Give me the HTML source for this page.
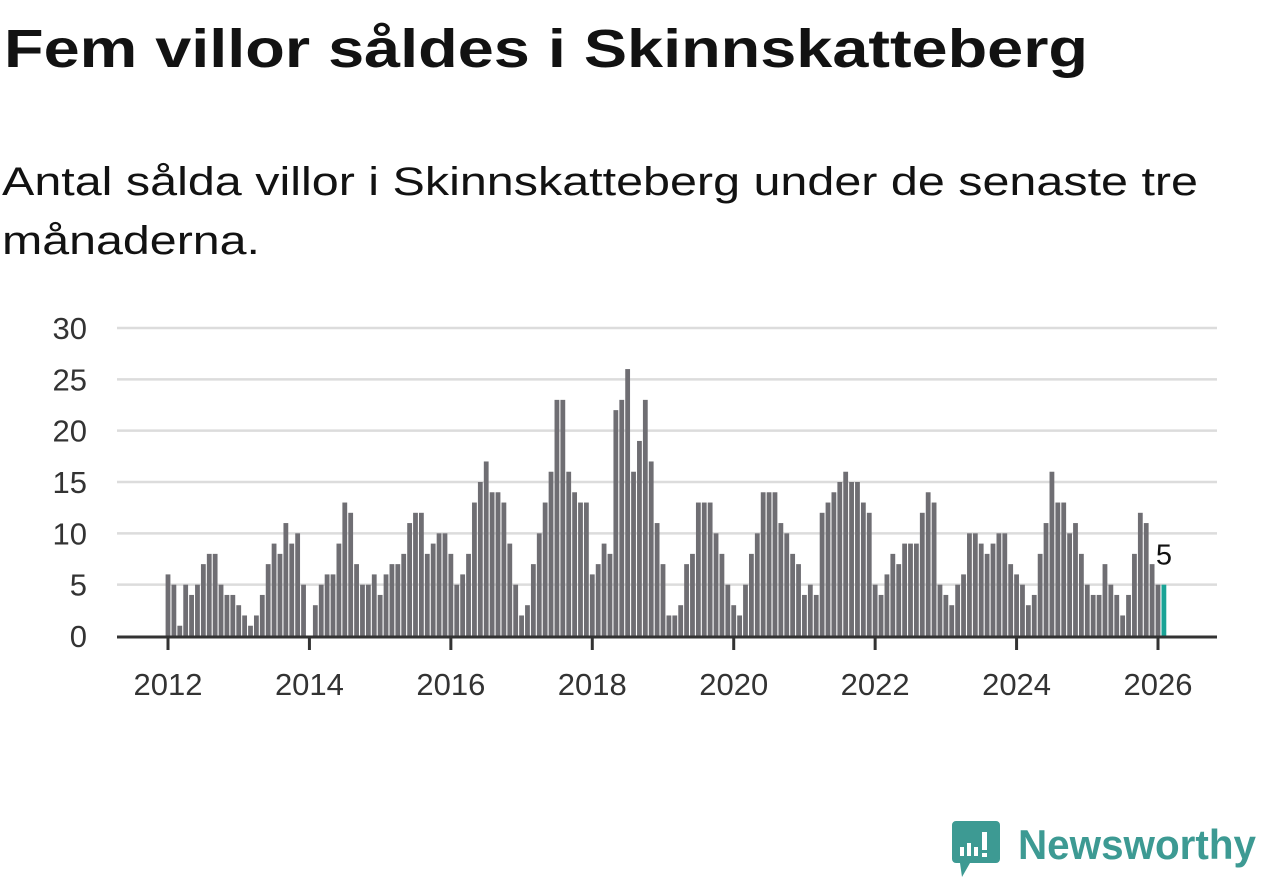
<!DOCTYPE html>
<html><head><meta charset="utf-8">
<style>
html,body{margin:0;padding:0;background:#fff;}
body{width:1262px;height:879px;overflow:hidden;position:relative;font-family:"Liberation Sans",sans-serif;}
svg text{font-family:"Liberation Sans",sans-serif;}
</style></head>
<body>
<svg width="1262" height="879" viewBox="0 0 1262 879">
  <text x="4" y="67" font-size="54" font-weight="bold" fill="#121212" textLength="1084" lengthAdjust="spacingAndGlyphs">Fem villor såldes i Skinnskatteberg</text>
  <text x="2" y="195" font-size="40" fill="#121212" textLength="1196" lengthAdjust="spacingAndGlyphs">Antal sålda villor i Skinnskatteberg under de senaste tre</text>
  <text x="2" y="254" font-size="40" fill="#121212" textLength="258" lengthAdjust="spacingAndGlyphs">månaderna.</text>
  <g id="grid"></g>
  <g id="yaxis"></g>
  <g id="bars"></g>
  <g id="xaxis"></g>
  <g id="labels"></g>
  <g>
    <path d="M956 821 h40 a4 4 0 0 1 4 4 v34 a4 4 0 0 1 -4 4 h-26 l-8 14 l-2 -14 h-4 a4 4 0 0 1 -4 -4 v-34 a4 4 0 0 1 4 -4z" fill="#3d9a93"/>
    <rect x="960" y="847" width="4" height="9" fill="#fff"/>
    <rect x="967" y="843" width="4" height="13" fill="#fff"/>
    <rect x="974" y="847" width="4" height="9" fill="#fff"/>
    <rect x="982" y="832" width="5" height="18" fill="#fff"/>
    <rect x="982" y="853" width="5" height="4" fill="#fff"/>
    <text x="1018" y="859" font-size="42" font-weight="bold" fill="#3d9a93" textLength="238" lengthAdjust="spacingAndGlyphs">Newsworthy</text>
  </g>
</svg>
<script>
const years = [2012,2013,2014,2015,2016,2017,2018,2019,2020,2021,2022,2023,2024,2025,2026];
const yTicks = [0,5,10,15,20,25,30];
const xTickLabels = ["2012","2014","2016","2018","2020","2022","2024","2026"];
const values = [
 6,5,1,5,4,5,7,8,8,5,4,4,
 3,2,1,2,4,7,9,8,11,9,10,5,
 0,3,5,6,6,9,13,12,7,5,5,6,
 4,6,7,7,8,11,12,12,8,9,10,10,
 8,5,6,8,13,15,17,14,14,13,9,5,
 2,3,7,10,13,16,23,23,16,14,13,13,
 6,7,9,8,22,23,26,16,19,23,17,11,
 7,2,2,3,7,8,13,13,13,10,8,5,
 3,2,5,8,10,14,14,14,11,10,8,7,
 4,5,4,12,13,14,15,16,15,15,13,12,
 5,4,6,8,7,9,9,9,12,14,13,5,
 4,3,5,6,10,10,9,8,9,10,10,7,
 6,5,3,4,8,11,16,13,13,10,11,8,
 5,4,4,7,5,4,2,4,8,12,11,7,
 5,5
];
const NS="http://www.w3.org/2000/svg";
const X0=168, MONTH=990/168, Y0=636, UNIT=308/30;
const xScale = i => X0 + i*MONTH;
const yScale = v => Y0 - v*UNIT;
function mk(tag, attrs, parent){const e=document.createElementNS(NS,tag);for(const k in attrs)e.setAttribute(k,attrs[k]);parent.appendChild(e);return e;}
const grid=document.getElementById('grid'), ya=document.getElementById('yaxis');
yTicks.forEach(t=>{
  if(t>0){const l=mk('line',{x1:117,x2:1217,y1:yScale(t),y2:yScale(t),stroke:'#dcdcdc','stroke-width':2.5},grid);
  
  }
  const tx=mk('text',{x:87,y:yScale(t)+11,'font-size':31,fill:'#333','text-anchor':'end'},ya);
  tx.textContent=t;
  
  
});
const bars=document.getElementById('bars');
values.forEach((v,i)=>{
  const last=i===values.length-1;
  const r=mk('rect',{x:xScale(i)-2.4,y:yScale(v),width:4.8,height:v*UNIT,fill:last?'#1aa396':'#6f6e73'},bars);
  
  
});
const xa=document.getElementById('xaxis');
const ax=mk('line',{x1:117,x2:1217,y1:Y0+1,y2:Y0+1,stroke:'#333','stroke-width':3},xa);


xTickLabels.forEach(lbl=>{
  const i=(parseInt(lbl)-years[0])*12;
  const tk=mk('line',{x1:xScale(i),x2:xScale(i),y1:Y0,y2:Y0+14,stroke:'#333','stroke-width':3},xa);
  
  
  const t=mk('text',{x:xScale(i),y:Y0+59,'font-size':31,fill:'#333','text-anchor':'middle'},xa);
  t.textContent=lbl;
  
  
});
const lab=document.getElementById('labels');
const li=values.length-1;
const lt=mk('text',{x:xScale(li)-8,y:yScale(values[li])-20,'font-size':29,fill:'#121212',stroke:'#fff','stroke-width':4,'paint-order':'stroke'},lab);
lt.textContent=values[li];


</script>
</body></html>
